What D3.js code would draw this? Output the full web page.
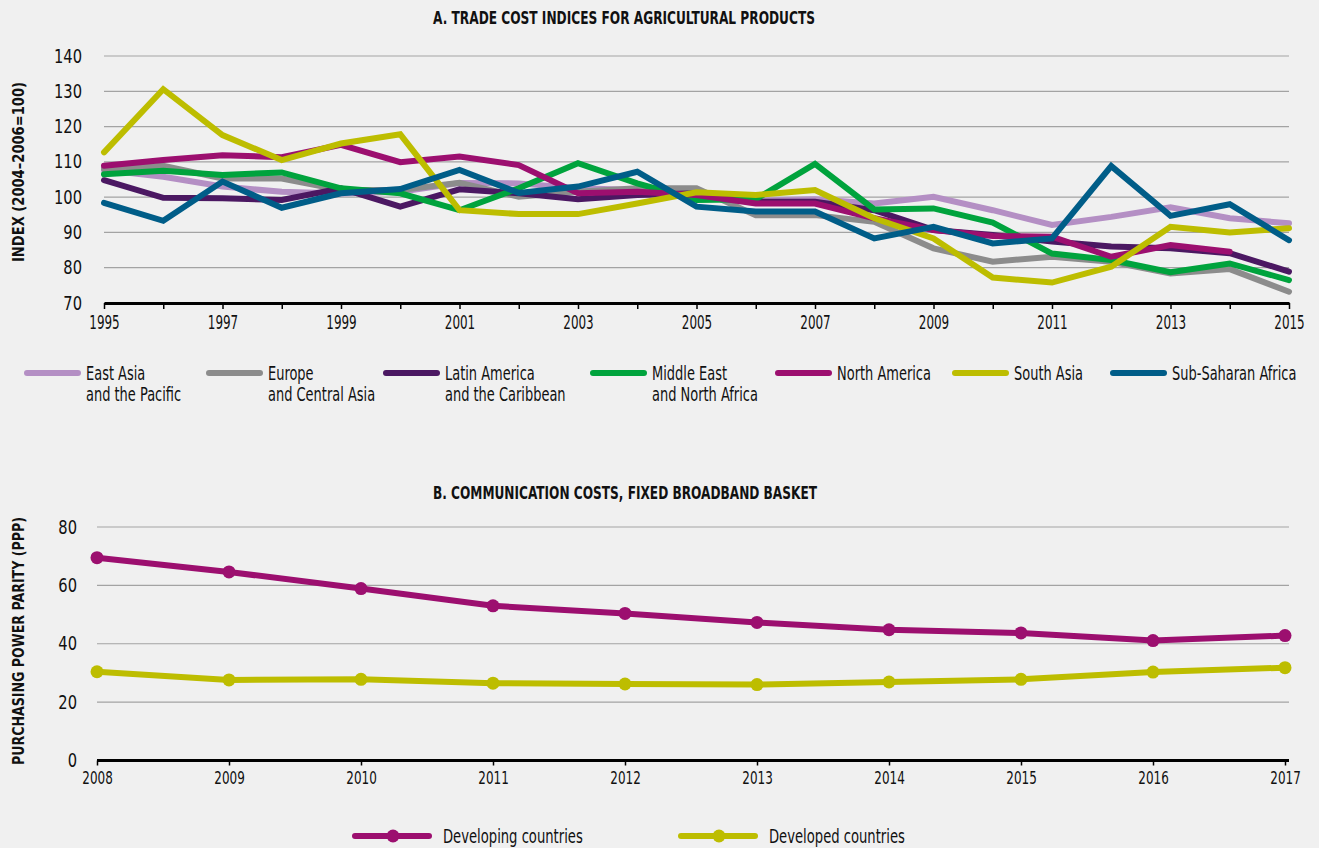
<!DOCTYPE html>
<html>
<head>
<meta charset="utf-8">
<script src="https://cdnjs.cloudflare.com/ajax/libs/d3/7.8.5/d3.min.js"></script>
<style>
body { margin:0; background:#f0f0f0; }
svg { display:block; background:#f0f0f0; }
text { font-family:'DejaVu Sans Condensed','DejaVu Sans',sans-serif; font-stretch:condensed; fill:#111; }
.axis .domain { stroke:#000; stroke-width:3; }
.axis .tick line { stroke:#000; stroke-width:1.5; }
.axis text { font-size:19px; }
.title { font-weight:bold; font-size:18px; }
.ytitle { font-weight:bold; font-size:16px; }
.legend text { font-size:19px; }
</style>
</head>
<body>
<svg width="1319" height="848"></svg>
<script>
// panel A: trade cost indices
var tradeYears = [1995,1996,1997,1998,1999,2000,2001,2002,2003,2004,2005,2006,2007,2008,2009,2010,2011,2012,2013,2014,2015]
var tradeTicks = [70,80,90,100,110,120,130,140]

var eastAsia = [107.7,105.8,103,101.5,101,101.5,104,103.9,102.5,102,101,99,99.4,98.2,100.1,96.3,92.1,94.4,97.1,94,92.6]
var europe = [108.1,108.9,105.3,105.3,102,102,104.1,100.1,101.5,102.5,102.5,94.9,94.9,93,85.5,81.7,83.1,81.7,78.4,79.6,73.2]
var latinAmerica = [104.8,99.8,99.7,99.2,102.5,97.3,102.2,101.1,99.4,100.6,101.1,98.7,98.7,96.3,90.7,89.3,87.4,86,85.5,84.1,78.9]
var middleEast = [106.5,107.5,106.3,107,102.5,101.1,96.3,102.5,109.6,103.9,99.2,99.4,109.4,96.5,96.8,92.8,84,82.2,78.7,81.2,76.5]
var northAmerica = [108.9,110.5,111.9,111.3,114.8,109.9,111.5,109.1,101.1,101.5,100.6,98.2,98.2,94,90.7,89,88.8,83.1,86.4,84.5,null]
var southAsia = [112.7,130.6,117.6,110.5,115.2,117.8,96.3,95.2,95.2,98.2,101.4,100.6,102,94,88.3,77.2,75.8,80.3,91.6,90,91.2]
var subSaharan = [98.4,93.3,104.4,97,101.1,102.3,107.7,101.2,103,107.2,97.3,95.9,95.9,88.3,91.6,86.9,88.3,108.8,94.7,98,87.8]

var regionNames = [["East Asia","and the Pacific"],["Europe","and Central Asia"],["Latin America","and the Caribbean"],["Middle East","and North Africa"],["North America"],["South Asia"],["Sub-Saharan Africa"]]
var regionColors = ["#b48fc4","#8c8c8c","#4b1862","#00a33d","#9c0f6f","#bdbd00","#005d88"]

// panel B: communication costs
var commYears = [2008,2009,2010,2011,2012,2013,2014,2015,2016,2017]
var commTicks = [0,20,40,60,80]
var developing = [69.5,64.6,58.9,53,50.4,47.3,44.8,43.7,41.1,42.8]
var developed = [30.4,27.6,27.8,26.5,26.2,26,26.9,27.8,30.3,31.8]
var commNames = ["Developing countries","Developed countries"]
var commColors = ["#9c0f6f","#bdbd00"]

var svg = d3.select("svg")

// the original typeface is a tall condensed one, so squash the glyphs sideways
var squeeze = function(sel,k)
    {
        sel.each(function()
            {
                var x = +d3.select(this).attr("x") || 0
                d3.select(this)
                    .attr("transform","translate("+x+",0) scale("+k+",1) translate("+(-x)+",0)")
            })
    }

var drawTrade = function()
    {
        var regions = [eastAsia,europe,latinAmerica,middleEast,northAmerica,southAsia,subSaharan]

        var xScale = d3.scaleLinear()
                        .domain([1995,2015])
                        .range([104,1289])

        var yScale = d3.scaleLinear()
                        .domain([70,140])
                        .range([303,56])

        svg.append("text")
            .attr("class","title")
            .attr("x",624)
            .attr("y",24)
            .attr("text-anchor","middle")
            .attr("textLength",382)
            .attr("lengthAdjust","spacingAndGlyphs")
            .text("A. TRADE COST INDICES FOR AGRICULTURAL PRODUCTS")

        // gridlines
        svg.append("g")
            .selectAll("line")
            .data(tradeTicks.slice(1))
            .enter()
            .append("line")
            .attr("x1",xScale(1995))
            .attr("x2",xScale(2015))
            .attr("y1",function(d){return yScale(d)})
            .attr("y2",function(d){return yScale(d)})
            .attr("stroke","#a3a3a3")
            .attr("stroke-width",1.2)

        var xAxis = svg.append("g")
            .attr("class","axis")
            .attr("transform","translate(0,"+yScale(70)+")")
            .call(d3.axisBottom(xScale)
                    .tickValues(tradeYears)
                    .tickSize(6)
                    .tickSizeOuter(0)
                    .tickFormat(function(y){return y%2==1 ? y : ""}))
        xAxis.selectAll("text").attr("dy","0.88em")
        squeeze(xAxis.selectAll("text"),0.7)

        var yAxis = svg.append("g")
            .attr("class","axis")
            .attr("transform","translate(82,0)")
            .call(d3.axisLeft(yScale).tickValues(tradeTicks).tickSize(0))
        yAxis.select(".domain").remove()
        yAxis.selectAll("text").attr("x",0)
        squeeze(yAxis.selectAll("text"),0.86)

        svg.append("text")
            .attr("class","ytitle")
            .attr("transform","translate(24,172) rotate(-90)")
            .attr("text-anchor","middle")
            .attr("textLength",180)
            .attr("lengthAdjust","spacingAndGlyphs")
            .text("INDEX (2004–2006=100)")

        var lineGenerator = d3.line()
            .defined(function(v){return v!=null})
            .x(function(v,i){return xScale(tradeYears[i])})
            .y(function(v){return yScale(v)})

        svg.append("g")
            .selectAll("path")
            .data(regions)
            .enter()
            .append("path")
            .attr("d",lineGenerator)
            .attr("fill","none")
            .attr("stroke",function(d,i){return regionColors[i]})
            .attr("stroke-width",6)
            .attr("stroke-linejoin","miter")
            .attr("stroke-linecap","round")

        // legend
        var legendX = [27,209,386,593,778,955,1113]
        var items = svg.append("g")
            .attr("class","legend")
            .selectAll("g")
            .data(regionNames)
            .enter()
            .append("g")
            .attr("transform",function(d,i){return "translate("+legendX[i]+",373)"})

        items.append("line")
            .attr("x1",0)
            .attr("x2",51)
            .attr("stroke",function(d,i){return regionColors[i]})
            .attr("stroke-width",6)
            .attr("stroke-linecap","round")

        var labels = items.selectAll("text")
            .data(function(d){return d})
            .enter()
            .append("text")
            .attr("x",59)
            .attr("y",function(d,i){return 7+i*21})
            .text(function(d){return d})
        squeeze(labels,0.76)
    }

var drawComm = function()
    {
        var series = [developing,developed]

        var xScale = d3.scaleLinear()
                        .domain([2008,2017])
                        .range([97,1285])

        var yScale = d3.scaleLinear()
                        .domain([0,80])
                        .range([760.5,527])

        svg.append("text")
            .attr("class","title")
            .attr("x",625)
            .attr("y",499)
            .attr("text-anchor","middle")
            .attr("textLength",384)
            .attr("lengthAdjust","spacingAndGlyphs")
            .text("B. COMMUNICATION COSTS, FIXED BROADBAND BASKET")

        svg.append("g")
            .selectAll("line")
            .data(commTicks.slice(1))
            .enter()
            .append("line")
            .attr("x1",97)
            .attr("x2",1289)
            .attr("y1",function(d){return yScale(d)})
            .attr("y2",function(d){return yScale(d)})
            .attr("stroke","#a3a3a3")
            .attr("stroke-width",1.2)

        var xAxis = svg.append("g")
            .attr("class","axis")
            .attr("transform","translate(0,"+yScale(0)+")")
            .call(d3.axisBottom(xScale)
                    .tickValues(commYears)
                    .tickSize(5)
                    .tickSizeOuter(0)
                    .tickFormat(d3.format("d")))
        xAxis.select(".domain").attr("d","M97,0H1289")
        xAxis.selectAll("text").attr("dy","0.88em").style("font-size","18px")
        squeeze(xAxis.selectAll("text"),0.74)

        var yAxis = svg.append("g")
            .attr("class","axis")
            .attr("transform","translate(77,0)")
            .call(d3.axisLeft(yScale).tickValues(commTicks).tickSize(0))
        yAxis.select(".domain").remove()
        yAxis.selectAll("text").attr("x",0)
        squeeze(yAxis.selectAll("text"),0.86)

        svg.append("text")
            .attr("class","ytitle")
            .attr("transform","translate(24,641) rotate(-90)")
            .attr("text-anchor","middle")
            .attr("textLength",248)
            .attr("lengthAdjust","spacingAndGlyphs")
            .text("PURCHASING POWER PARITY (PPP)")

        var lineGenerator = d3.line()
            .x(function(v,i){return xScale(commYears[i])})
            .y(function(v){return yScale(v)})

        var groups = svg.append("g")
            .selectAll("g")
            .data(series)
            .enter()
            .append("g")
            .attr("fill",function(d,i){return commColors[i]})
            .attr("stroke",function(d,i){return commColors[i]})

        groups.append("path")
            .attr("d",lineGenerator)
            .attr("fill","none")
            .attr("stroke-width",6)

        groups.selectAll("circle")
            .data(function(d){return d})
            .enter()
            .append("circle")
            .attr("cx",function(v,i){return xScale(commYears[i])})
            .attr("cy",function(v){return yScale(v)})
            .attr("r",6.5)
            .attr("stroke","none")

        // legend
        var legendX = [355,681]
        var items = svg.append("g")
            .attr("class","legend")
            .selectAll("g")
            .data(commNames)
            .enter()
            .append("g")
            .attr("transform",function(d,i){return "translate("+legendX[i]+",836)"})

        items.append("line")
            .attr("x1",0)
            .attr("x2",74)
            .attr("stroke",function(d,i){return commColors[i]})
            .attr("stroke-width",6)
            .attr("stroke-linecap","round")

        items.append("circle")
            .attr("cx",38)
            .attr("r",6.5)
            .attr("fill",function(d,i){return commColors[i]})

        var labels = items.append("text")
            .attr("x",88)
            .attr("y",7)
            .text(function(d){return d})
        squeeze(labels,0.77)
    }

drawTrade()
drawComm()
</script>
</body>
</html>
